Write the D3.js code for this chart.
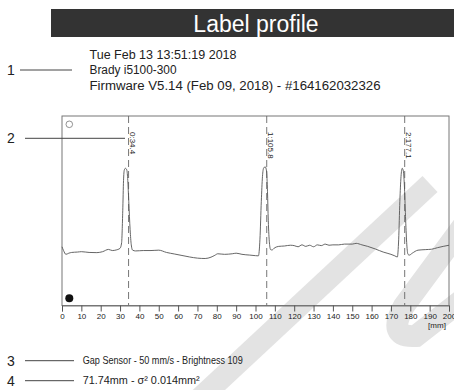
<!DOCTYPE html>
<html>
<head>
<meta charset="utf-8">
<script src="https://cdn.jsdelivr.net/npm/d3@7"></script>
<style>
  html, body { margin: 0; padding: 0; background: #fff; }
  svg { display: block; font-family: "Liberation Sans", Arial, Helvetica, sans-serif; }
</style>
</head>
<body>
<svg id="chart" width="454" height="390"></svg>
<script>
// Report header
const titleText = "Label profile";
const headerLines = [
  "Tue Feb 13 13:51:19 2018",
  "Brady i5100-300",
  "Firmware V5.14 (Feb 09, 2018) - #164162032326"
];
const footerLines = [
  "Gap Sensor - 50 mm/s - Brightness 109",
  "71.74mm - \u03c3\u00b2 0.014mm\u00b2"
];

// Sensor trace: position along the web [mm] and signal level
const positions = [
  0, 0.8, 2.0, 3.5, 5, 8, 10, 14, 18, 21, 24, 26, 28, 30,
  30.8, 31.4, 31.8, 32.2, 32.8, 33.5, 34.0, 34.5, 35.2, 35.8, 36.5,
  38, 42, 46, 50, 54, 58, 62, 66, 70, 74, 77, 79, 80.5, 84, 88, 90, 93, 97, 100, 101.5,
  102.3, 103, 103.6, 104.2, 105, 105.7, 106.2, 106.6, 107.2, 107.8, 108.5,
  110, 112, 115, 118, 120, 122, 124, 126, 128, 130, 132, 134, 136, 138, 140, 143, 146,
  150, 152, 155, 158, 162, 166, 170, 172, 173.3,
  174, 174.6, 175.2, 175.8, 176.4, 177, 177.6, 178.2, 178.8, 179.5,
  181, 184, 188, 191, 194, 197, 200
];
const levels = [
  31.0, 29.0, 27.0, 27.6, 28.0, 28.2, 28.4, 28.0, 27.9, 28.4, 29.6, 29.0, 29.3, 30.2,
  33, 50, 66, 71.5, 72.4, 71.5, 66, 55, 40, 32, 29.2,
  28.8, 29.0, 29.0, 29.2, 28.0, 27.2, 26.4, 25.6, 25.0, 24.8, 25.5, 26.5, 27.3, 27.0, 27.3, 27.6, 27.0, 26.6, 26.3, 26.2,
  35, 55, 68, 72.5, 73.2, 71, 60, 45, 33, 29.5, 29.3,
  30.5, 31.2, 31.4, 31.8, 31.6, 31.0, 32.0, 31.2, 31.8, 31.0, 32.0, 31.6, 32.4, 31.8, 32.0, 32.0, 32.4,
  32.4, 32.8, 32.0, 31.2, 29.8, 28.2, 27.0, 26.2, 25.6,
  35, 55, 68, 72.4, 71, 62, 45, 32, 27, 26.6,
  27.6, 29.2, 29.5, 29.7, 30.5, 31.2, 31.8
];

// Detected label edges
const edgePositions = [34.4, 105.8, 177.1];
const edgeLabels = ["0:34.4", "1:105.8", "2:177.1"];

// Axis ticks [mm]
const tickValues = [0, 10, 20, 30, 40, 50, 60, 70, 80, 90, 100, 110, 120, 130, 140, 150, 160, 170, 180, 190, 200];
const tickLabels = ["0", "10", "20", "30", "40", "50", "60", "70", "80", "90", "100", "110", "120", "130", "140", "150", "160", "170", "180", "190", "200"];
const unitLabel = "[mm]";

// Callout numbers
const calloutNumbers = ["1", "2", "3", "4"];

const svg = d3.select("#chart");

// Background stamp
const stamp = svg.append("g").attr("fill", "none").attr("stroke", "#e3e3e3").attr("stroke-width", 22);
stamp.append("path").attr("d", "M430,184 L196,402");
stamp.append("path").attr("d", "M472,214 L404,306 Q386,338 416,336 L472,292");

// Title bar
svg.append("rect").attr("x", 51).attr("y", 9).attr("width", 403).attr("height", 28).attr("fill", "#333333");
svg.append("text").attr("x", 256).attr("y", 32.3).attr("text-anchor", "middle")
  .attr("font-size", 23).attr("fill", "#fff").text(titleText);

// Header block
const headerWidths = [147, 87, 291];
svg.append("g").selectAll("text").data(headerLines).join("text")
  .attr("x", 89.5).attr("y", (d, i) => 58.5 + i * 15.5)
  .attr("font-size", 12.5).attr("fill", "#222")
  .attr("textLength", (d, i) => headerWidths[i]).attr("lengthAdjust", "spacingAndGlyphs")
  .text(d => d);

// Plot
const frame = { left: 62, right: 449, top: 116, bottom: 305.5 };
const x = d3.scaleLinear().domain([0, 200]).range([frame.left, frame.right]);
const y = d3.scaleLinear().domain([0, 100]).range([frame.bottom, frame.top]);

svg.append("rect").attr("x", frame.left).attr("y", frame.top)
  .attr("width", frame.right - frame.left).attr("height", frame.bottom - frame.top)
  .attr("fill", "none").attr("stroke", "#777").attr("stroke-width", 1);

// Edge markers
svg.append("g").selectAll("line").data(edgePositions).join("line")
  .attr("x1", d => x(d)).attr("x2", d => x(d))
  .attr("y1", frame.top).attr("y2", frame.bottom)
  .attr("stroke", "#666").attr("stroke-width", 0.9).attr("stroke-dasharray", "7,4");

svg.append("g").selectAll("text").data(edgePositions).join("text")
  .attr("transform", d => `translate(${x(d) + 1.2},132) rotate(90)`)
  .attr("font-size", 8).attr("fill", "#222")
  .text((d, i) => edgeLabels[i]);

// Trace
const trace = d3.line().x(d => x(d[0])).y(d => y(d[1])).curve(d3.curveMonotoneX);
svg.append("path").datum(positions.map((p, i) => [p, levels[i]]))
  .attr("d", trace).attr("fill", "none").attr("stroke", "#555").attr("stroke-width", 0.9);

// Corner symbols
svg.append("circle").attr("cx", 69.3).attr("cy", 124.3).attr("r", 3.3)
  .attr("fill", "none").attr("stroke", "#777").attr("stroke-width", 0.8);
svg.append("circle").attr("cx", 69.3).attr("cy", 298.3).attr("r", 4).attr("fill", "#111");

// Axis
const axis = d3.axisBottom(x).tickValues(tickValues).tickSize(6).tickPadding(2)
  .tickFormat((d, i) => tickLabels[i]);
const axisG = svg.append("g").attr("transform", `translate(0,${frame.bottom})`).call(axis);
axisG.select(".domain").attr("stroke", "#777");
axisG.selectAll(".tick line").attr("stroke", "#555");
axisG.selectAll(".tick text").attr("font-size", 8).attr("fill", "#222")
  .attr("font-family", "Liberation Sans, Arial, sans-serif");
svg.append("text").attr("x", 437).attr("y", 328).attr("text-anchor", "middle")
  .attr("font-size", 8).attr("fill", "#222").text(unitLabel);

// Callouts
const callouts = [
  { y: 70, x1: 20, x2: 72 },
  { y: 138.3, x1: 25, x2: 125 },
  { y: 360.7, x1: 25, x2: 74 },
  { y: 380.7, x1: 25, x2: 74 }
];
const cg = svg.append("g");
cg.selectAll("text").data(callouts).join("text")
  .attr("x", 7).attr("y", d => d.y + 5)
  .attr("font-size", 14).attr("fill", "#222")
  .text((d, i) => calloutNumbers[i]);
cg.selectAll("line").data(callouts).join("line")
  .attr("x1", d => d.x1).attr("x2", d => d.x2)
  .attr("y1", d => d.y).attr("y2", d => d.y)
  .attr("stroke", "#444").attr("stroke-width", 1);

// Footer
const footerWidths = [160, 117];
svg.append("g").selectAll("text").data(footerLines).join("text")
  .attr("x", 82.7).attr("y", (d, i) => 364.3 + i * 20)
  .attr("font-size", 10.5).attr("fill", "#222")
  .attr("textLength", (d, i) => footerWidths[i]).attr("lengthAdjust", "spacingAndGlyphs")
  .text(d => d);
</script>
</body>
</html>
